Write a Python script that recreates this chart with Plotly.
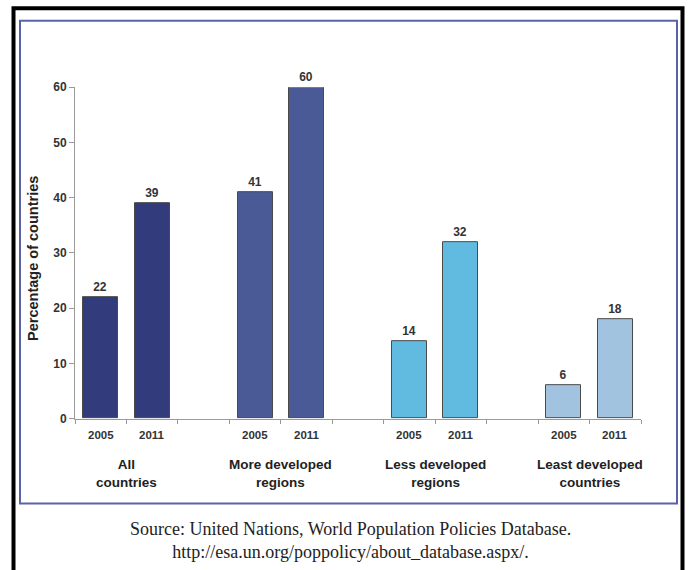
import plotly.graph_objects as go

# Data
groups = ["All<br>countries", "More developed<br>regions",
          "Less developed<br>regions", "Least developed<br>countries"]
years = ["2005", "2011"]
values_2005 = [22, 41, 14, 6]
values_2011 = [39, 60, 32, 18]
group_colors = ["#323B7B", "#4A5A97", "#61BBE0", "#A2C3DF"]
y_ticks = [0, 10, 20, 30, 40, 50, 60]

W, H = 690, 570

def px_x(p):
    return p / W

def px_y(p):
    q = (p - 5.7) / 0.977
    return 1 - q / H

# Each group occupies three slots: 2005, 2011, then a gap
xs, ys, cols, labels = [], [], [], []
for i, (a, b) in enumerate(zip(values_2005, values_2011)):
    base = i * 3
    xs += [base, base + 1]
    ys += [a, b]
    cols += [group_colors[i], group_colors[i]]
    labels += years

fig = go.Figure()
fig.add_trace(go.Bar(
    x=xs, y=ys, width=0.68,
    marker=dict(color=cols, line=dict(color="#4a4a4a", width=1)),
    text=[str(v) for v in ys], textposition="outside",
    textfont=dict(family="Liberation Sans", size=12, color="#333333", weight="bold"),
    cliponaxis=False, showlegend=False, hoverinfo="skip",
))

tick_font = dict(family="Liberation Sans", size=12, color="#333333", weight="bold")
year_font = dict(family="Liberation Sans", size=11.5, color="#333333", weight="bold")

fig.update_layout(
    width=W, height=H,
    margin=dict(l=0, r=0, t=0, b=0),
    paper_bgcolor="white", plot_bgcolor="white",
    bargap=0,
    xaxis=dict(
        domain=[px_x(75), px_x(641)], range=[-0.5, 10.5],
        showgrid=False, zeroline=False, showticklabels=False,
        showline=True, linecolor="#9a9a9a", linewidth=1,
        ticks="", fixedrange=True,
        minor=dict(ticks="outside", tick0=-0.5, dtick=1, ticklen=4,
                   tickcolor="#9a9a9a", showgrid=False),
    ),
    yaxis=dict(
        domain=[px_y(418), px_y(86)], range=[0, 60],
        tickvals=y_ticks, showgrid=False, zeroline=False,
        showline=True, linecolor="#9a9a9a", linewidth=1,
        ticks="outside", ticklen=5, tickcolor="#9a9a9a",
        tickfont=tick_font, fixedrange=True,
    ),
)

annotations = []
# Year labels under each bar
for x, lab in zip(xs, labels):
    annotations.append(dict(x=x, y=px_y(434), xref="x", yref="paper",
                            text=lab, showarrow=False, font=year_font,
                            xanchor="center", yanchor="middle"))
# Group labels
for i, g in enumerate(groups):
    annotations.append(dict(x=i * 3 + 0.5, y=px_y(473), xref="x", yref="paper",
                            text=g, showarrow=False,
                            font=dict(family="Liberation Sans", size=13.5,
                                      color="#222222", weight="bold"),
                            xanchor="center", yanchor="middle"))
# Y-axis title
annotations.append(dict(x=px_x(33), y=px_y(258), xref="paper", yref="paper",
                        text="Percentage of countries", textangle=-90,
                        showarrow=False,
                        font=dict(family="Liberation Sans", size=14.5,
                                  color="#222222", weight="bold"),
                        xanchor="center", yanchor="middle"))
# Source note
annotations.append(dict(x=px_x(350), y=px_y(540), xref="paper", yref="paper",
                        text="Source: United Nations, World Population Policies Database.<br>"
                             "http://esa.un.org/poppolicy/about_database.aspx/.",
                        showarrow=False,
                        font=dict(family="Liberation Serif", size=18, color="#222222"),
                        xanchor="center", yanchor="middle"))
fig.update_layout(annotations=annotations)

# Outer frame and chart box
fig.add_shape(type="rect", xref="paper", yref="paper",
              x0=px_x(13.5), x1=px_x(682.5), y0=px_y(600), y1=px_y(7),
              line=dict(color="black", width=4), fillcolor="rgba(0,0,0,0)",
              layer="below")
fig.add_shape(type="rect", xref="paper", yref="paper",
              x0=px_x(20), x1=px_x(677), y0=px_y(503), y1=px_y(19.5),
              line=dict(color="#5A63A6", width=2), fillcolor="rgba(0,0,0,0)",
              layer="below")

fig.write_html("out.html")
